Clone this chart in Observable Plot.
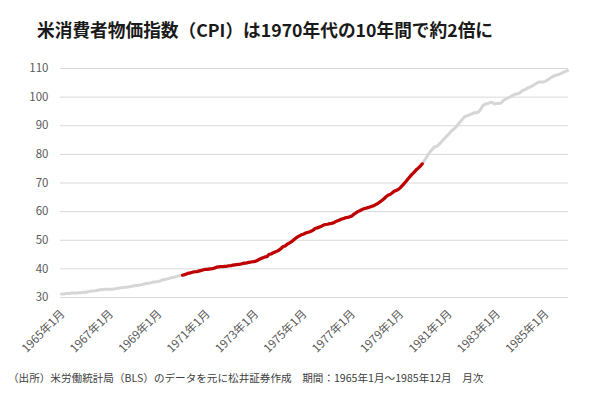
<!DOCTYPE html>
<html><head><meta charset="utf-8">
<script src="https://cdn.jsdelivr.net/npm/d3@7"></script>
<script src="https://cdn.jsdelivr.net/npm/@observablehq/plot@0.6"></script>
<style>
html,body{margin:0;padding:0;background:#fff}
body{width:600px;height:397px;overflow:hidden;font-family:"Noto Sans CJK JP","Noto Sans",sans-serif}
#title{box-sizing:border-box;height:50px;padding:17px 0 0 37px;line-height:24px;font-size:17.7px;font-weight:bold;color:#1a1a1a;white-space:nowrap}
#chart{height:310px}
#caption{padding:10px 0 0 8px;font-size:10.6px;line-height:16px;color:#404040;white-space:nowrap}
</style></head><body>
<div id="title">米消費者物価指数（CPI）は1970年代の10年間で約2倍に</div>
<div id="chart"></div>
<div id="caption">（出所）米労働統計局（BLS）のデータを元に松井証券作成　期間：1965年1月～1985年12月　月次</div>
<script>
// Monthly CPI values, Jan 1965 – Dec 1985
const startYear = 1965;
const cpiValues = [
  31.2,31.2,31.3,31.4,31.4,31.6,31.6,31.6,31.6,31.7,31.7,31.8,
  31.8,32.0,32.1,32.3,32.3,32.4,32.5,32.7,32.7,32.9,32.9,32.9,
  32.9,32.9,33.0,33.1,33.2,33.3,33.4,33.5,33.6,33.7,33.8,33.9,
  34.1,34.2,34.3,34.4,34.5,34.7,34.9,35.0,35.1,35.3,35.4,35.5,
  35.6,35.8,36.1,36.3,36.4,36.6,36.8,37.0,37.1,37.3,37.5,37.7,
  37.8,38.0,38.2,38.5,38.6,38.8,39.0,39.0,39.2,39.4,39.6,39.8,
  39.8,39.9,40.0,40.1,40.3,40.6,40.7,40.8,40.8,40.9,40.9,41.1,
  41.1,41.3,41.4,41.5,41.6,41.7,41.9,42.0,42.1,42.3,42.4,42.5,
  42.6,42.9,43.3,43.6,43.9,44.2,44.3,45.1,45.2,45.6,45.9,46.2,
  46.6,47.2,47.8,48.0,48.6,49.0,49.4,50.0,50.6,51.1,51.5,51.9,
  52.1,52.5,52.7,52.9,53.2,53.6,54.2,54.3,54.6,54.9,55.3,55.5,
  55.6,55.8,55.9,56.1,56.5,56.8,57.1,57.4,57.6,57.9,58.0,58.2,
  58.5,59.1,59.5,60.0,60.3,60.7,61.0,61.2,61.4,61.6,61.9,62.1,
  62.5,62.9,63.4,63.9,64.5,65.2,65.7,66.0,66.5,67.1,67.4,67.7,
  68.3,69.1,69.8,70.6,71.5,72.3,73.1,73.8,74.6,75.2,75.9,76.7,
  77.8,78.9,80.1,81.0,81.8,82.7,82.7,83.3,84.0,84.8,85.5,86.3,
  87.0,87.9,88.5,89.1,89.8,90.6,91.6,92.3,93.2,93.4,93.7,94.0,
  94.3,94.6,94.5,94.9,95.8,97.0,97.5,97.7,97.9,98.2,98.0,97.6,
  97.8,97.9,97.9,98.6,99.2,99.5,99.9,100.2,100.7,101.0,101.2,101.3,
  101.9,102.4,102.6,103.1,103.4,103.7,104.1,104.5,105.0,105.3,105.3,105.3,
  105.5,106.0,106.4,106.9,107.3,107.6,107.8,108.0,108.3,108.7,109.0,109.3
];
const highlightStart = 1970, highlightEnd = 1979; // 1970年代
const yTicks = [30,40,50,60,70,80,90,100,110];
const xTickYears = [1965,1967,1969,1971,1973,1975,1977,1979,1981,1983,1985];
const xTickLabels = xTickYears.map(y => `${y}年1月`);

const data = cpiValues.map((v, i) => ({
  date: new Date(Date.UTC(startYear + Math.floor(i / 12), i % 12, 1)),
  year: startYear + Math.floor(i / 12),
  value: v
}));
const hi = data.filter(d => d.year >= highlightStart && d.year <= highlightEnd);
const ticks = xTickYears.map((y, i) => ({date: new Date(Date.UTC(y, 0, 1)), label: xTickLabels[i]}));

const chart = Plot.plot({
  width: 600,
  height: 310,
  marginLeft: 60,
  marginRight: 32,
  marginTop: 18,
  marginBottom: 63,
  style: {fontFamily: "'Noto Sans CJK JP','Noto Sans',sans-serif", fontSize: "11.5px", color: "#595959", background: "#fff"},
  x: {type: "utc", domain: [data[0].date, data[data.length - 1].date], inset: 1, axis: null},
  y: {domain: [30, 110], ticks: yTicks, label: null},
  marks: [
    Plot.gridY(yTicks, {stroke: "#d9d9d9", strokeOpacity: 1, strokeWidth: 1}),
    Plot.axisY(yTicks, {tickSize: 0, tickPadding: 12, fill: "#595959", label: null}),
    Plot.text(ticks, {x: "date", text: "label", frameAnchor: "bottom", dy: 17, dx: 4, rotate: -45, textAnchor: "end", fill: "#595959", fontSize: 11.5}),
    Plot.line(data, {x: "date", y: "value", stroke: "#d6d6d6", strokeWidth: 3, strokeLinecap: "round", strokeLinejoin: "round"}),
    Plot.line(hi, {x: "date", y: "value", stroke: "#c00000", strokeWidth: 3.2, strokeLinecap: "round", strokeLinejoin: "round"})
  ]
});
document.getElementById("chart").appendChild(chart);
</script>
</body></html>
